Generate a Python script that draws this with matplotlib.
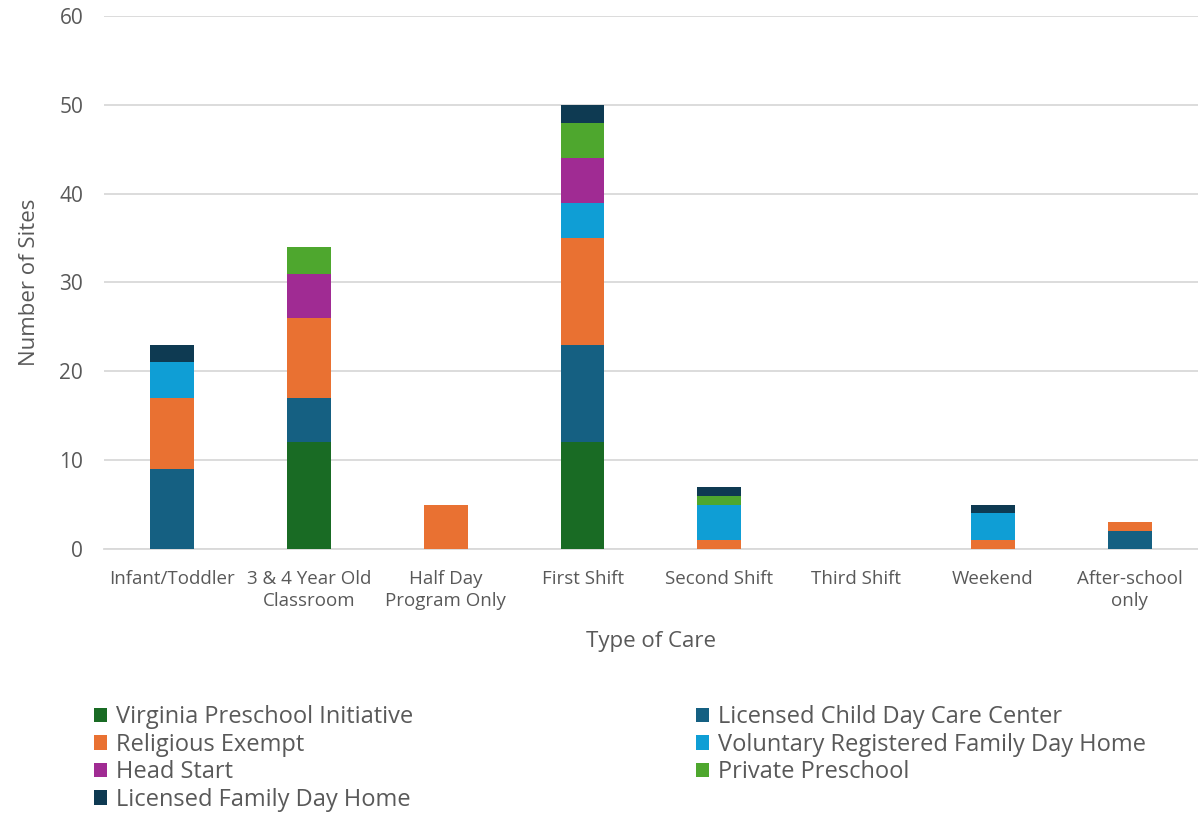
import matplotlib.pyplot as plt
import numpy as np

plt.rcParams['font.family'] = ['Open Sans', 'DejaVu Sans']

categories = ['Infant/Toddler', '3 & 4 Year Old\nClassroom', 'Half Day\nProgram Only',
              'First Shift', 'Second Shift', 'Third Shift', 'Weekend', 'After-school\nonly']

# counts per site type, stacked bottom to top in this order
vpi = [0, 12, 0, 12, 0, 0, 0, 0]
lcdcc = [9, 5, 0, 11, 0, 0, 0, 2]
religious = [8, 9, 5, 12, 1, 0, 1, 1]
vrfdh = [4, 0, 0, 4, 4, 0, 3, 0]
head_start = [0, 5, 0, 5, 0, 0, 0, 0]
private = [0, 3, 0, 4, 1, 0, 0, 0]
lfdh = [2, 0, 0, 2, 1, 0, 1, 0]

series = [
    ('Virginia Preschool Initiative', vpi, '#196B24'),
    ('Licensed Child Day Care Center', lcdcc, '#156082'),
    ('Religious Exempt', religious, '#E97132'),
    ('Voluntary Registered Family Day Home', vrfdh, '#0F9ED5'),
    ('Head Start', head_start, '#A02B93'),
    ('Private Preschool', private, '#4EA72E'),
    ('Licensed Family Day Home', lfdh, '#0E3A52'),
]

grey = '#595959'
fig = plt.figure(figsize=(11.98, 8.14), dpi=100)
ax = fig.add_axes([0.0868, 0.3256, 0.9132, 0.6547])

x = np.arange(len(categories))
bottom = np.zeros(len(categories))
handles = {}
for name, vals, col in series:
    b = ax.bar(x, vals, 0.32, bottom=bottom, color=col, label=name, zorder=3)
    handles[name] = b
    bottom += np.array(vals)

ax.set_ylim(0, 60)
ax.set_xlim(-0.5, len(categories) - 0.5)
ax.set_yticks(range(0, 61, 10))
ax.set_xticks(x)
ax.set_xticklabels(categories, fontsize=13.5, color=grey, linespacing=1.32)
ax.tick_params(axis='y', labelsize=15, colors=grey, length=0, pad=15)
ax.tick_params(axis='x', length=0, pad=15)
ax.grid(axis='y', color='#D9D9D9', linewidth=1.3, zorder=0)
for s in ['top', 'right', 'left']:
    ax.spines[s].set_visible(False)
ax.spines['bottom'].set_color('#D9D9D9')
ax.spines['bottom'].set_linewidth(1.3)

ax.set_xlabel('Type of Care', fontsize=16, color=grey, labelpad=15)
ax.set_ylabel('Number of Sites', fontsize=16, color=grey, labelpad=14)

order = ['Virginia Preschool Initiative', 'Religious Exempt', 'Head Start',
         'Licensed Family Day Home', 'Licensed Child Day Care Center',
         'Voluntary Registered Family Day Home', 'Private Preschool']
leg = fig.legend([handles[n] for n in order], order, ncol=2, loc='upper left',
                 bbox_to_anchor=(0.069, 0.148), frameon=False, fontsize=17,
                 handlelength=0.55, handleheight=0.55, handletextpad=0.35,
                 labelspacing=0.15, columnspacing=12.0, borderpad=0)
for t in leg.get_texts():
    t.set_color(grey)

fig.savefig('out.png', dpi=100)
